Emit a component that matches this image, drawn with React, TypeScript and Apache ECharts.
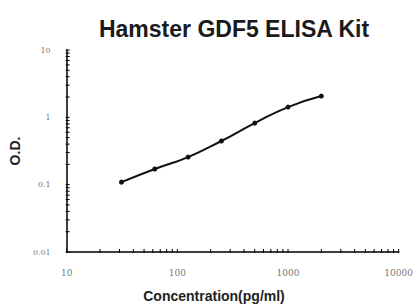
import React, { useEffect, useRef } from "react";
import * as echarts from "echarts";

const concentrations = [31.25, 62.5, 125, 250, 500, 1000, 2000];
const odValues = [0.109, 0.171, 0.257, 0.445, 0.82, 1.42, 2.07];
const xMin = 10;
const xMax = 10000;
const yMin = 0.01;
const yMax = 10;
const titleText = "Hamster GDF5 ELISA Kit";
const xName = "Concentration(pg/ml)";
const yName = "O.D.";

function tickValues(min: number, max: number): number[] {
  const out: number[] = [];
  for (let d = min; d < max; d *= 10) {
    for (let k = 1; k <= 9; k++) out.push(d * k);
  }
  out.push(max);
  return out;
}

export default function App() {
  const ref = useRef<HTMLDivElement>(null);
  useEffect(() => {
    if (!ref.current) return;
    const chart = echarts.init(ref.current, undefined, { renderer: "svg" });
    const xTicks = tickValues(xMin, xMax);
    const yTicks = tickValues(yMin, yMax);
    const tickData = [
      ...xTicks.map((v) => [v, yMin, 0]),
      ...yTicks.map((v) => [xMin, v, 1]),
    ];
    chart.setOption({
      animation: false,
      backgroundColor: "#ffffff",
      title: {
        text: titleText,
        left: 229,
        top: 12,
        textAlign: "center",
        textStyle: {
          fontFamily: "Liberation Sans, Arial, sans-serif",
          fontWeight: "bold",
          fontSize: 23,
          color: "#1a1a1a",
        },
      },
      grid: { left: 60, right: 17, top: 50, bottom: 56, containLabel: false },
      xAxis: {
        type: "log",
        logBase: 10,
        min: xMin,
        max: xMax,
        axisLine: { lineStyle: { color: "#000", width: 1.5 } },
        axisTick: { show: false },
        axisLabel: {
          margin: 16,
          color: "#777",
          fontSize: 9,
          fontFamily: "DejaVu Serif, serif",
          formatter: (v: number) => String(v),
        },
        splitLine: { show: false },
      },
      yAxis: {
        type: "log",
        logBase: 10,
        min: yMin,
        max: yMax,
        name: yName,
        nameLocation: "middle",
        nameGap: 44,
        nameTextStyle: {
          fontFamily: "Liberation Sans, Arial, sans-serif",
          fontWeight: "bold",
          fontSize: 14,
          color: "#222",
        },
        axisLine: { lineStyle: { color: "#000", width: 1.5 } },
        axisTick: { show: false },
        axisLabel: {
          margin: 16,
          color: "#777",
          fontSize: 8,
          fontFamily: "DejaVu Serif, serif",
          formatter: (v: number) => String(v),
        },
        splitLine: { show: false },
      },
      graphic: [
        {
          type: "text",
          x: 214,
          y: 289,
          style: {
            text: xName,
            fontFamily: "Liberation Sans, Arial, sans-serif",
            fontWeight: "bold",
            fontSize: 14,
            fill: "#222",
            align: "center",
            verticalAlign: "top",
          },
        },
      ],
      series: [
        {
          type: "custom",
          silent: true,
          clip: false,
          encode: { x: 0, y: 1 },
          data: tickData,
          renderItem: (_params: any, api: any) => {
            const p = api.coord([api.value(0), api.value(1)]);
            const horiz = api.value(2) === 0;
            return {
              type: "line",
              shape: horiz
                ? { x1: p[0], y1: p[1] + 1, x2: p[0], y2: p[1] - 3 }
                : { x1: p[0] - 1, y1: p[1], x2: p[0] + 3, y2: p[1] },
              style: { stroke: "#000", lineWidth: 1, fill: null },
            };
          },
          z: 1,
        },
        {
          type: "line",
          data: concentrations.map((c, i) => [c, odValues[i]]),
          smooth: true,
          symbol: "circle",
          symbolSize: 5,
          itemStyle: { color: "#111" },
          lineStyle: { color: "#111", width: 2 },
          z: 3,
        },
      ],
    });
    return () => chart.dispose();
  }, []);
  return (
    <div
      ref={ref}
      style={{ position: "fixed", left: 0, top: 0, width: 416, height: 308 }}
    />
  );
}
